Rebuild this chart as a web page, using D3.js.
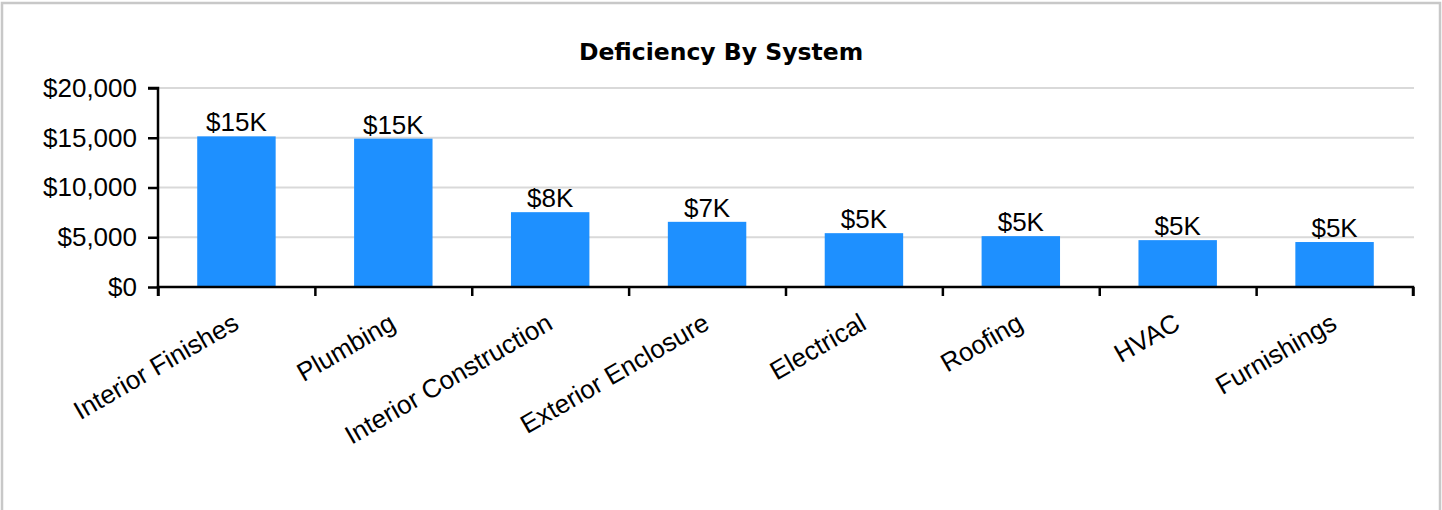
<!DOCTYPE html>
<html>
<head>
<meta charset="utf-8">
<script src="https://cdn.jsdelivr.net/npm/d3@7"></script>
<style>
  html, body { margin: 0; padding: 0; background: #fff; }
  svg { display: block; }
</style>
</head>
<body>
<svg id="chart" width="1442" height="510"></svg>
<script>
// Deficiency cost by building system
const systems = ["Interior Finishes", "Plumbing", "Interior Construction", "Exterior Enclosure",
                 "Electrical", "Roofing", "HVAC", "Furnishings"];
const costs = [15140, 14910, 7520, 6550, 5410, 5110, 4710, 4520];
const yTicks = [0, 5000, 10000, 15000, 20000];
const chartTitle = "Deficiency By System";

const svg = d3.select("#chart");
const W = 1442, H = 510;
const m = { left: 158, right: 29, top: 88, bottom: 223 };

const x = d3.scaleBand().domain(systems).range([m.left, W - m.right]).paddingInner(0.5).paddingOuter(0.25);
const xEdges = d3.scaleLinear().domain([0, systems.length]).range([m.left, W - m.right]);
const y = d3.scaleLinear().domain([0, 20000]).range([H - m.bottom, m.top]);

const font = "'Liberation Sans', Arial, sans-serif";
const fs = "26px";

// outer frame
svg.append("rect")
  .attr("x", 2).attr("y", 3).attr("width", W - 4).attr("height", H + 20)
  .attr("fill", "#fff").attr("stroke", "#c8c8c8").attr("stroke-width", 2.5);

// title
svg.append("text")
  .attr("x", W / 2).attr("y", 60)
  .attr("text-anchor", "middle")
  .style("font-family", "'DejaVu Sans', sans-serif")
  .style("font-weight", "bold").style("font-size", "23.5px")
  .attr("fill", "#000")
  .text(chartTitle);

// horizontal gridlines
svg.append("g").selectAll("line")
  .data(yTicks.filter(d => d > 0))
  .join("line")
  .attr("x1", m.left).attr("x2", W - m.right + 1)
  .attr("y1", d => y(d)).attr("y2", d => y(d))
  .attr("stroke", "#d9d9d9").attr("stroke-width", 2);

// bars
svg.append("g").selectAll("rect")
  .data(systems)
  .join("rect")
  .attr("x", d => x(d))
  .attr("width", x.bandwidth())
  .attr("y", (d, i) => y(costs[i]))
  .attr("height", (d, i) => y(0) - y(costs[i]))
  .attr("fill", "#1e90ff");

// value labels
svg.append("g").selectAll("text")
  .data(systems)
  .join("text")
  .attr("x", d => x(d) + x.bandwidth() / 2)
  .attr("y", (d, i) => y(costs[i]) - 5)
  .attr("text-anchor", "middle")
  .style("font-family", font).style("font-size", fs)
  .attr("fill", "#000")
  .text((d, i) => "$" + Math.round(costs[i] / 1000) + "K");

// y axis
const yAxis = d3.axisLeft(y).tickValues(yTicks).tickSize(10).tickPadding(11)
  .tickFormat(d => "$" + d3.format(",")(d));
const gy = svg.append("g").attr("transform", `translate(${m.left},0)`).call(yAxis);
gy.select(".domain").attr("stroke", "#000").attr("stroke-width", 2.5)
  .attr("d", `M-10,${y(20000)}H0V${y(0)}`);
gy.selectAll(".tick line").attr("stroke", "#000").attr("stroke-width", 2.5);
gy.selectAll(".tick text").style("font-family", font).style("font-size", fs).attr("fill", "#000");

// x axis: line with ticks at category boundaries
const edges = d3.range(systems.length + 1);
const xAxis = d3.axisBottom(xEdges).tickValues(edges).tickSize(9).tickFormat("");
const gx = svg.append("g").attr("transform", `translate(0,${y(0)})`).call(xAxis);
gx.select(".domain").attr("stroke", "#000").attr("stroke-width", 2.5)
  .attr("d", `M${m.left},9V0H${W - m.right}V9`);
gx.selectAll(".tick line").attr("stroke", "#000").attr("stroke-width", 2.5);

// rotated category labels
svg.append("g").selectAll("text")
  .data(systems)
  .join("text")
  .attr("transform", d => `translate(${x(d) + x.bandwidth() / 2 + 4},${y(0) + 41}) rotate(-30)`)
  .attr("text-anchor", "end")
  .style("font-family", font).style("font-size", fs)
  .attr("fill", "#000")
  .text(d => d);
</script>
</body>
</html>
